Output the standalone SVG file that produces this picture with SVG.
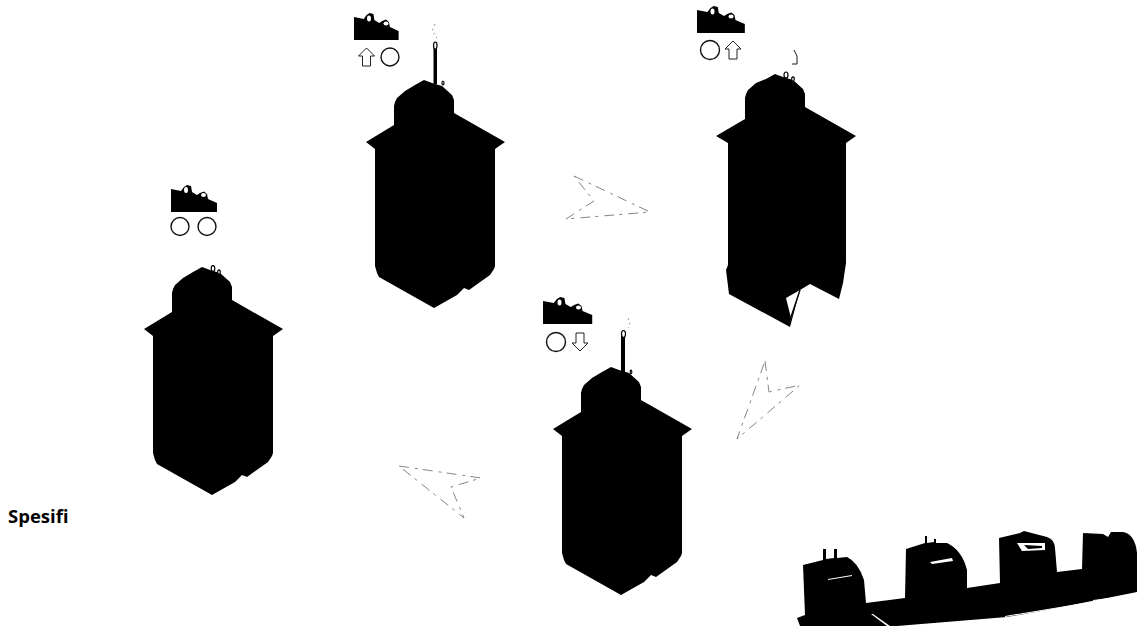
<svg xmlns="http://www.w3.org/2000/svg" width="1137" height="626" viewBox="0 0 1137 626">
<style>
.k{fill:#000}
.w{fill:#fff}
.o{fill:none;stroke:#000;stroke-width:1.4}
.loop{fill:#fff;stroke:#000;stroke-width:1.2}
.ci{fill:#fff;stroke:#111;stroke-width:1.4}
.ar{fill:#fff;stroke:#222;stroke-width:1}
.d{fill:none;stroke:#777;stroke-width:.9;stroke-dasharray:10 6 3 5}
.s{fill:none;stroke:#777;stroke-width:.8;stroke-dasharray:2 3}
.t{font-family:"Open Sans","Noto Sans",sans-serif;font-weight:700;font-size:18.500px;fill:#000}
</style>
<defs>
<path id="tower" d="M144 329L172 312V293Q173 288 175 285L183 278L193 272L202 267L210 270L220 273L230 282L232 287V300L283 329L273 336V453L272 456L268 462L247 477L242 475L235 482L212 495L157 464L155 460L153 453V336Z"/>
<path id="icon" d="M171 189L181 191L184 187L187 185L191 186L192 192L197 195L200 193L204 191.500L207 194L208 199L217 203V212H171Z"/>
<path id="up" d="M0-9L8-1H4V9H-4V-1H-8Z"/>
</defs>
<g id="tower-left">
<use href="#tower" class="k"/>
<ellipse class="loop" cx="213" cy="268.500" rx="1.800" ry="2.800"/>
<ellipse class="loop" cx="219" cy="272" rx="1.300" ry="2.200"/>
<use href="#icon" class="k"/>
<ellipse class="w" cx="186" cy="190" rx="2" ry="3"/>
<ellipse class="w" cx="203.500" cy="195" rx="2.500" ry="2"/>
<circle class="ci" cx="180" cy="226.500" r="9"/>
<circle class="ci" cx="207" cy="226.500" r="9"/>
</g>
<g id="tower-up-left">
<use href="#tower" class="k" x="222" y="-187"/>
<rect class="k" x="433.500" y="46" width="3.500" height="38"/>
<ellipse class="loop" cx="435.300" cy="45.500" rx="1.700" ry="3.500"/>
<path class="s" d="M435 24L432 31L437 37L434 40"/>
<ellipse class="loop" cx="443" cy="83" rx="1" ry="2"/>
<use href="#icon" class="k" transform="translate(354 17) scale(.97 1) translate(-171 -189)"/>
<ellipse class="w" cx="369" cy="18.500" rx="2" ry="3"/>
<ellipse class="w" cx="386" cy="23.500" rx="2.500" ry="2"/>
<use href="#up" class="ar" x="366.500" y="57"/>
<circle class="ci" cx="390" cy="57" r="9"/>
</g>
<g id="tower-up-right">
<path class="k" d="M716 136L745 119V98Q746 93 748 90L756 83L766 79L775 74L783 77L793 80L803 89L805 94V107L856 136L846 143V263L843 283L839 299L810 284L800 290L790 327L729 294L726 270L728 265V143Z"/>
<path class="w" d="M786 298L800 290L791 318Z"/>
<path class="o" d="M800 290L790 320"/>
<ellipse class="loop" cx="786" cy="75" rx="2" ry="3"/>
<ellipse class="loop" cx="793" cy="79" rx="1.300" ry="2.200"/>
<path class="o" style="stroke-width:.9" d="M794 50L797 56V64H792"/>
<use href="#icon" class="k" transform="translate(697 10) scale(1.040 1) translate(-171 -189)"/>
<ellipse class="w" cx="712.500" cy="11.500" rx="2" ry="3"/>
<ellipse class="w" cx="731" cy="16.500" rx="2.500" ry="2"/>
<circle class="ci" cx="710" cy="50" r="9.500"/>
<use href="#up" class="ar" x="733" y="50"/>
</g>
<g id="tower-down">
<use href="#tower" class="k" x="409" y="100"/>
<rect class="k" x="621" y="336" width="4" height="37"/>
<ellipse class="loop" cx="623.500" cy="334" rx="2" ry="3.500"/>
<path class="s" d="M628 318L630 323L628 328"/>
<ellipse class="loop" cx="631" cy="372" rx=".8" ry="1.800"/>
<use href="#icon" class="k" transform="translate(543 301) scale(1.070 1) translate(-171 -189)"/>
<ellipse class="w" cx="559.500" cy="302.500" rx="2" ry="3"/>
<ellipse class="w" cx="578.500" cy="307.500" rx="2.500" ry="2"/>
<circle class="ci" cx="556" cy="342" r="9.500"/>
<use href="#up" class="ar" transform="translate(580 342) scale(1 -1)"/>
</g>
<g id="connectors">
<path class="d" d="M574 176L650 212L566 219L594 201Z"/>
<path class="d" d="M765 361L769 392L800 385L737 439Z"/>
<path class="d" d="M399 466L481 478L451 487L464 518Z"/>
</g>
<g id="machines">
<path class="k" d="M805 615L803 565L823 560V549H826V559L834 558V549H837V558L847 557Q858 562 864 580L866 603L905 598L906 549L925 543V536H927V543L934 542V539H936V543L947 543Q962 550 967 570V588L1000 583L999 538L1020 533L1024 531L1047 537Q1055 540 1055 548L1057 572L1082 569L1083 533L1103 534L1108 537L1111 532L1123 532Q1135 534 1137 553V592L1057 608L1007 617L897 626H800L797 618Z"/>
<path class="w" d="M828 579L852 575L852 576L828 580Z"/>
<path class="w" d="M930 562L952 558L953 561L932 564Z"/>
<path class="w" d="M1017 543L1045 543L1045 550L1022 551Z"/>
<path class="k" d="M1024 545L1042 546V548L1028 549Z"/>
<path class="w" d="M871 614L873 614L890 626H887Z"/>
<path class="w" d="M1005 616L1090 602L1090 603L1005 617ZM1093 600L1125 596V597L1093 601Z"/>
</g>
<g id="label"><text class="t" x="8" y="523">Spesifi</text></g>
</svg>
